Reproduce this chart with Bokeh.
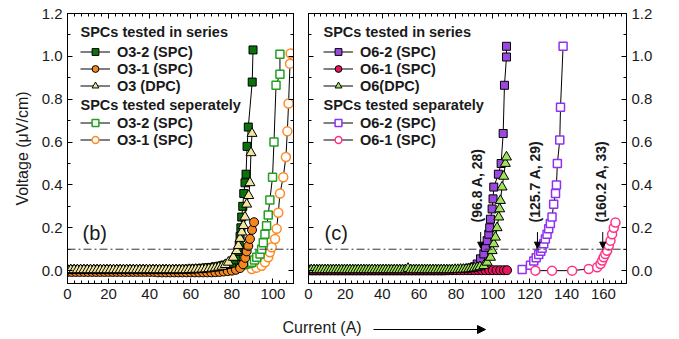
from bokeh.plotting import figure
from bokeh.models import (Range1d, LinearAxis, SingleIntervalTicker, FixedTicker, Span, Label, Arrow,
                          NormalHead, Legend, LegendItem, PrintfTickFormatter, ColumnDataSource)
from bokeh.layouts import row, column
from bokeh.embed import file_html
from bokeh.resources import INLINE
from bokeh.core.properties import value
import math

FONT = "Liberation Sans"

# ---------------- Panel (b) data ----------------
o32_ser_x = [0, 2, 4, 6, 8, 10, 12, 14, 16, 18, 20, 22, 24, 26, 28, 30, 32, 34, 36, 38, 40, 42, 44, 46, 48,
             50, 52, 54, 56, 58, 60, 62, 64, 66, 68, 70, 72, 74, 76, 78, 80, 81, 82, 83, 83.6, 84, 84.4,
             84.8, 85.3, 85.8, 86.4, 86.9, 87.4, 88, 89.9, 90.3]
o32_ser_y = [0.005, 0.005, 0.005, 0.005, 0.005, 0.005, 0.005, 0.005, 0.005, 0.005, 0.005, 0.005, 0.005,
             0.005, 0.005, 0.005, 0.005, 0.005, 0.005, 0.005, 0.005, 0.005, 0.005, 0.005, 0.005, 0.005,
             0.005, 0.005, 0.006, 0.006, 0.007, 0.008, 0.009, 0.011, 0.013, 0.015, 0.018, 0.021, 0.025,
             0.029, 0.035, 0.05, 0.065, 0.09, 0.12, 0.16, 0.2, 0.25, 0.3, 0.36, 0.41, 0.45, 0.58, 0.67,
             0.88, 1.03]

o31_ser_x = [0, 2, 4, 6, 8, 10, 12, 14, 16, 18, 20, 22, 24, 26, 28, 30, 32, 34, 36, 38, 40, 42, 44, 46, 48,
             50, 52, 54, 56, 58, 60, 62, 64, 66, 68, 70, 72, 74, 76, 78, 80, 82, 84, 85.5, 86.5, 87.2, 88.0,
             88.8, 89.8, 90.8]
o31_ser_y = [-0.006, -0.006, -0.006, -0.006, -0.006, -0.006, -0.006, -0.006, -0.006, -0.006, -0.006,
             -0.006, -0.006, -0.006, -0.006, -0.006, -0.006, -0.006, -0.006, -0.006, -0.006, -0.006,
             -0.008, -0.008, -0.008, -0.008, -0.008, -0.008, -0.008, -0.008, -0.008, -0.008, -0.008,
             -0.008, -0.008, -0.008, -0.007, -0.006, -0.004, -0.002, 0.0, 0.004, 0.012, 0.03, 0.06, 0.09,
             0.115, 0.148, 0.19, 0.226]

o3_dpc_x = [0, 1.6, 3.2, 4.8, 6.4, 8, 9.6, 11.2, 12.8, 14.4, 16, 17.6, 19.2, 20.8, 22.4, 24, 25.6, 27.2,
            28.8, 30.4, 32, 33.6, 35.2, 36.8, 38.4, 40, 41.6, 43.2, 44.8, 46.4, 48, 49.6, 51.2, 52.8, 54.4,
            56, 57.6, 59.2, 60.8, 62.4, 64, 65.6, 67.2, 68.8, 70.4, 72, 73.6, 75.2, 76.8, 78.3, 80.7, 82.4,
            83.2, 84, 84.8, 85.6, 86.4, 87.2, 88.2, 88.8, 89.3, 89.8]
o3_dpc_y = [0.004, 0.004, 0.004, 0.004, 0.004, 0.004, 0.004, 0.004, 0.004, 0.004, 0.004, 0.004, 0.004,
            0.004, 0.004, 0.004, 0.004, 0.004, 0.004, 0.004, 0.004, 0.004, 0.004, 0.004, 0.004, 0.004,
            0.004, 0.004, 0.004, 0.004, 0.004, 0.004, 0.004, 0.004, 0.004, 0.004, 0.004, 0.005, 0.005,
            0.006, 0.006, 0.007, 0.008, 0.009, 0.011, 0.013, 0.016, 0.02, 0.028, 0.039, 0.062, 0.093,
            0.117, 0.15, 0.18, 0.21, 0.25, 0.31, 0.35, 0.41, 0.55, 0.64]

o32_sep_x = [81, 82, 83, 84, 85, 86, 87, 88, 89, 89.7, 91, 92.1, 93.7, 94.5, 95.3, 96.1, 96.9, 97.7, 98.5,
             99.8, 100.5, 101.5, 103.4, 103.4]
o32_sep_y = [0.018, 0.02, 0.022, 0.025, 0.027, 0.029, 0.031, 0.034, 0.036, 0.039, 0.05, 0.062, 0.078, 0.1,
             0.13, 0.17, 0.21, 0.26, 0.33, 0.436, 0.6, 0.865, 0.916, 1.01]

o31_sep_x = [89.7, 92.0, 94.5, 96.1, 97.7, 98.5, 99.4, 101.0, 101.8, 102.6, 103.4, 105.0, 106.3, 107.0,
             107.6, 108.3, 108.6]
o31_sep_y = [0.008, 0.014, 0.023, 0.039, 0.062, 0.086, 0.109, 0.148, 0.195, 0.27, 0.36, 0.436, 0.53, 0.65,
             0.78, 0.966, 1.013]

# ---------------- Panel (c) data ----------------
o62_ser_x = [0, 2, 4, 6, 8, 10, 12, 14, 16, 18, 20, 22, 24, 26, 28, 30, 32, 34, 36, 38, 40, 42, 44, 46, 48,
             50, 52, 54, 56, 58, 60, 62, 64, 66, 68, 70, 72, 74, 76, 78, 80, 82, 84, 86, 88, 90, 91.5, 93.3,
             95.1, 96.0, 96.9, 97.8, 98.3, 98.7, 99.6, 100.1, 100.5, 103.0, 104.5, 105.6, 106.3, 107.4, 107.4]
o62_ser_y = [0.0, 0.0, 0.0, 0.0, 0.0, 0.0, 0.0, 0.0, 0.0, 0.0, 0.0, 0.0, 0.0, 0.0, 0.0, 0.0, 0.0, 0.0, 0.0,
             0.0, 0.0, 0.0, 0.0, 0.0, 0.0, 0.0, 0.0, 0.0, 0.0, 0.0, 0.0, 0.0, 0.0, 0.0, 0.0, 0.0, 0.0, 0.0,
             0.001, 0.002, 0.003, 0.004, 0.006, 0.008, 0.012, 0.018, 0.031, 0.055, 0.078, 0.109, 0.14, 0.17,
             0.2, 0.24, 0.288, 0.335, 0.39, 0.45, 0.5, 0.64, 0.865, 0.997, 1.047]

o61_ser_x = [0, 2, 4, 6, 8, 10, 12, 14, 16, 18, 20, 22, 24, 26, 28, 30, 32, 34, 36, 38, 40, 42, 44, 46, 48,
             50, 52, 54, 56, 58, 60, 62, 64, 66, 68, 70, 72, 74, 76, 78, 80, 82, 84, 86, 88, 90, 92, 94, 96,
             98, 100, 102, 104, 106, 107.7]
o61_ser_y = [0.002, 0.002, 0.002, 0.002, 0.002, 0.002, 0.002, 0.002, 0.002, 0.002, 0.002, 0.002, 0.002,
             0.002, 0.002, 0.002, 0.002, 0.002, 0.002, 0.002, 0.002, 0.002, 0.002, 0.002, 0.002, 0.002,
             0.002, 0.002, 0.002, 0.002, 0.002, 0.002, 0.002, 0.002, 0.002, 0.002, 0.002, 0.002, 0.002,
             0.002, 0.002, 0.002, 0.002, 0.002, 0.002, 0.002, 0.002, 0.002, 0.002, 0.002, 0.002, 0.002,
             0.002, 0.002, 0.002]

o6_dpc_x = [0, 1.5, 3, 4.5, 6, 7.5, 9, 10.5, 12, 13.5, 15, 16.5, 18, 19.5, 21, 22.5, 24, 25.5, 27, 28.5,
            30, 31.5, 33, 34.5, 36, 37.5, 39, 40.5, 42, 43.5, 45, 46.5, 48, 49.5, 51, 52.5, 54, 55.5, 57,
            58.5, 60, 61.5, 63, 64.5, 66, 67.5, 69, 70.5, 72, 73.5, 75, 76.5, 78, 79.5, 81, 82.5, 84, 85.5,
            87, 88.5, 90, 91.5, 93, 95.1, 96.9, 98.7, 99.6, 100.5, 101.4, 102.3, 103.2, 103.7, 104.1, 105.0,
            105.9, 106.8, 107.4]
o6_dpc_y = [0.004, 0.004, 0.004, 0.004, 0.004, 0.004, 0.004, 0.004, 0.004, 0.004, 0.004, 0.004, 0.004,
            0.004, 0.004, 0.004, 0.004, 0.004, 0.004, 0.004, 0.004, 0.004, 0.004, 0.004, 0.004, 0.004,
            0.004, 0.004, 0.004, 0.004, 0.004, 0.004, 0.004, 0.004, 0.004, 0.004, 0.01, 0.004, 0.004,
            0.004, 0.004, 0.004, 0.004, 0.004, 0.004, 0.004, 0.004, 0.004, 0.004, 0.004, 0.004, 0.004,
            0.004, 0.005, 0.005, 0.006, 0.006, 0.007, 0.008, 0.01, 0.012, 0.015, 0.018, 0.023, 0.039,
            0.062, 0.093, 0.125, 0.156, 0.2, 0.25, 0.288, 0.327, 0.39, 0.44, 0.5, 0.53]

o62_sep_x = [115.9, 120.4, 122.2, 123.5, 124.9, 126.0, 126.7, 127.6, 128.5, 129.4, 130.3, 131.2, 132.1,
             133.0, 134.0, 134.5, 135.0, 136.3, 136.7, 138.1]
o62_sep_y = [0.005, 0.025, 0.045, 0.06, 0.075, 0.09, 0.105, 0.125, 0.148, 0.17, 0.195, 0.22, 0.25, 0.31,
             0.36, 0.4, 0.5, 0.61, 0.763, 1.047]

o61_sep_x = [123.1, 132.1, 143.0, 152.0, 156.6, 158.4, 159.3, 160.1, 161.0, 162.0, 162.9, 163.8, 164.7,
             165.6, 166.5]
o61_sep_y = [0.0, 0.0, 0.0, 0.008, 0.016, 0.031, 0.047, 0.062, 0.078, 0.093, 0.117, 0.14, 0.17, 0.2, 0.225]

# annotations (critical current labels) in panel (c)
ann_text = ["(96.8 A, 28)", "(125.7 A, 29)", "(160.2 A, 33)"]
ann_text_x = [91.6, 123.1, 158.9]
ann_text_y = [0.225, 0.225, 0.225]
ann_arrow_x = [93.4, 124.2, 159.6]
ann_arrow_top = [0.18, 0.18, 0.18]
ann_arrow_tip = [0.105, 0.105, 0.105]

criterion = 0.1
x_ticks_interval = 20
y_major_ticks = [0.0, 0.2, 0.4, 0.6, 0.8, 1.0, 1.2]
y_minor_ticks = [0.1, 0.3, 0.5, 0.7, 0.9, 1.1]


def style_axis(ax, labels, ticker, fmt=None):
    ax.ticker = ticker
    ax.major_tick_in = 5
    ax.major_tick_out = 0
    ax.minor_tick_in = 3
    ax.minor_tick_out = 0
    ax.axis_line_color = "black"
    ax.major_tick_line_color = "black"
    ax.minor_tick_line_color = "black"
    if labels:
        ax.major_label_text_font = FONT
        ax.major_label_text_font_size = "15px"
        ax.major_label_text_color = "#1a1a1a"
        ax.major_label_standoff = 5
    else:
        ax.major_label_text_font_size = "0px"
        ax.major_label_text_alpha = 0
        ax.major_label_text_color = None
        ax.major_label_standoff = 0
    if fmt:
        ax.formatter = PrintfTickFormatter(format=fmt)


def xticker():
    return SingleIntervalTicker(interval=x_ticks_interval, num_minor_ticks=6)


def yticker():
    return FixedTicker(ticks=y_major_ticks, minor_ticks=y_minor_ticks)


def make_fig(width, xmax, left, right, ylabels_side):
    p = figure(width=width, height=308, x_range=Range1d(0, xmax), y_range=Range1d(-0.06, 1.2),
               output_backend="svg", toolbar_location=None, x_axis_location=None,
               y_axis_location=None, min_border_left=left, min_border_right=right,
               min_border_top=13, min_border_bottom=25)
    p.xgrid.visible = False
    p.ygrid.visible = False
    p.outline_line_color = "black"
    p.background_fill_color = "white"
    p.border_fill_color = "white"
    b = LinearAxis()
    style_axis(b, True, xticker())
    p.add_layout(b, "below")
    t = LinearAxis()
    style_axis(t, False, xticker())
    p.add_layout(t, "above")
    yl = LinearAxis()
    yr = LinearAxis()
    style_axis(yl, ylabels_side == "left", yticker(), "%.1f")
    style_axis(yr, ylabels_side == "right", yticker(), "%.1f")
    p.add_layout(yl, "left")
    p.add_layout(yr, "right")
    p.add_layout(Span(location=criterion, dimension="width", line_color="#333333",
                      line_width=1, line_dash="8 3 2 3"))
    return p, yl


def series(p, x, y, marker, size, fill, line_color, lw):
    ln = p.line(x, y, line_color="black", line_width=1)
    sc = p.scatter(x, y, marker=marker, size=size, fill_color=fill, line_color=line_color,
                   line_width=lw)
    return [ln, sc]


def header(p, text, x, y):
    p.add_layout(Label(x=x, y=y, x_units="screen", y_units="screen", text=text, text_font=FONT,
                       text_font_size="14.5px", text_font_style="bold", text_baseline="middle",
                       text_color="#1a1a1a"))


def make_legends(p, x0, title1, items1, title2, items2):
    common = dict(label_text_font=FONT, label_text_font_size="14.5px", label_text_font_style="bold",
                  label_text_color="#1a1a1a", label_standoff=7, glyph_width=30, glyph_height=17,
                  label_height=17, spacing=0, padding=0, margin=0, border_line_color=None,
                  background_fill_alpha=0)
    header(p, title1, x0, 252)
    l1 = Legend(items=[LegendItem(label=lab, renderers=r) for lab, r in items1],
                location=(x0, 189), **common)
    header(p, title2, x0, 179)
    l2 = Legend(items=[LegendItem(label=lab, renderers=r) for lab, r in items2],
                location=(x0, 135), **common)
    p.add_layout(l1)
    p.add_layout(l2)


# ---------------- Panel (b) ----------------
p1, yl1 = make_fig(294, 110, 67, 1, "left")
yl1.axis_label = "Voltage (μV/cm)"
yl1.axis_label_text_font = FONT
yl1.axis_label_text_font_size = "16px"
yl1.axis_label_text_font_style = "normal"
yl1.axis_label_text_color = "#1a1a1a"
yl1.axis_label_standoff = 8

r_o31s = series(p1, o31_sep_x, o31_sep_y, "circle", 9, "white", "#FF8A25", 1.5)
r_o32s = series(p1, o32_sep_x, o32_sep_y, "square", 8, "white", "#22A022", 1.5)
r_o31 = series(p1, o31_ser_x, o31_ser_y, "circle", 9, "#F5871F", "black", 1)
r_o32 = series(p1, o32_ser_x, o32_ser_y, "square", 8, "#0B720B", "black", 1)
r_o3 = series(p1, o3_dpc_x, o3_dpc_y, "triangle", 10, "#F0E6A0", "black", 1)

make_legends(p1, 13, "SPCs tested in series",
             [("O3-2 (SPC)", r_o32), ("O3-1 (SPC)", r_o31), ("O3 (DPC)", r_o3)],
             "SPCs tested seperately",
             [("O3-2 (SPC)", r_o32s), ("O3-1 (SPC)", r_o31s)])

p1.add_layout(Label(x=15, y=51, x_units="screen", y_units="screen", text="(b)",
                    text_font=FONT, text_font_size="20px", text_baseline="middle",
                    text_color="#1a1a1a"))

# ---------------- Panel (c) ----------------
p2, yl2 = make_fig(377, 172.5, 14, 45, "right")

r_o62 = series(p2, o62_ser_x, o62_ser_y, "square", 8, "#9B48E0", "black", 1)
r_o61 = series(p2, o61_ser_x, o61_ser_y, "circle", 9, "#E8155E", "black", 1)
r_o6 = series(p2, o6_dpc_x, o6_dpc_y, "triangle", 10, "#A0E35A", "black", 1)
r_o62s = series(p2, o62_sep_x, o62_sep_y, "square", 8, "white", "#9030F0", 1.5)
r_o61s = series(p2, o61_sep_x, o61_sep_y, "circle", 9, "white", "#FF3385", 1.5)

make_legends(p2, 15, "SPCs tested in series",
             [("O6-2 (SPC)", r_o62), ("O6-1 (SPC)", r_o61), ("O6(DPC)", r_o6)],
             "SPCs tested separately",
             [("O6-2 (SPC)", r_o62s), ("O6-1 (SPC)", r_o61s)])

p2.text(x=ann_text_x, y=ann_text_y, text=ann_text, angle=math.pi / 2, text_align="left",
        text_baseline="middle", text_font=value(FONT), text_font_style="bold",
        text_font_size="14px", text_color="#1a1a1a")
arrow_src = ColumnDataSource(dict(xs=ann_arrow_x, ys=ann_arrow_top, xe=ann_arrow_x, ye=ann_arrow_tip))
p2.add_layout(Arrow(end=NormalHead(size=6, fill_color="black", line_color="black"),
                    x_start="xs", y_start="ys", x_end="xe", y_end="ye", source=arrow_src,
                    line_color="black", line_width=1))

p2.add_layout(Label(x=16, y=51, x_units="screen", y_units="screen", text="(c)",
                    text_font=FONT, text_font_size="20px", text_baseline="middle",
                    text_color="#1a1a1a"))

# ---------------- bottom strip with the x-axis title ----------------
p3 = figure(width=671, height=28, x_range=Range1d(0, 671), y_range=Range1d(0, 28),
            output_backend="svg", toolbar_location=None, x_axis_location=None,
            y_axis_location=None, min_border=0)
p3.xgrid.visible = False
p3.ygrid.visible = False
p3.outline_line_color = None
p3.add_layout(Label(x=282, y=9, text="Current (A)", text_font=FONT, text_font_size="16px",
                    text_baseline="middle", text_color="#1a1a1a"))
p3.add_layout(Arrow(end=NormalHead(size=8, fill_color="black", line_color="black"),
                    x_start=373, y_start=7, x_end=485, y_end=7, line_color="black", line_width=1))

layout = column(row(p1, p2), p3)
open("out.html", "w").write(file_html(layout, INLINE))
